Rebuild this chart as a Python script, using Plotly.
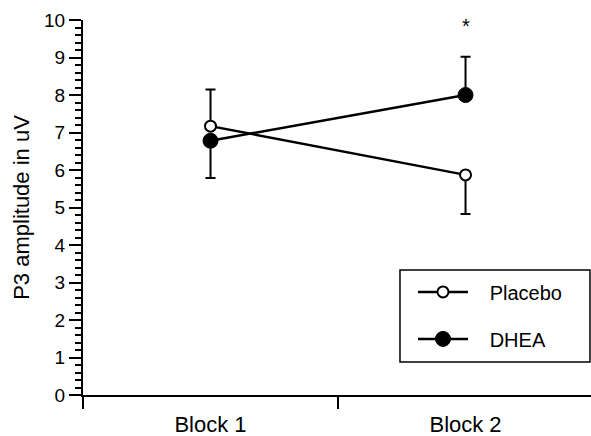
import plotly.graph_objects as go

categories = ["Block 1", "Block 2"]
placebo = [7.17, 5.87]
placebo_err_up = [0.98, 0.0]
placebo_err_down = [0.0, 1.04]
dhea = [6.78, 8.00]
dhea_err_up = [0.0, 1.02]
dhea_err_down = [0.99, 0.0]
star_pos = ("Block 2", 9.87)
y_ticks = [0, 1, 2, 3, 4, 5, 6, 7, 8, 9, 10]

FONT = "Arial, Liberation Sans, sans-serif"
PAD = "\u00a0\u00a0\u00a0"

fig = go.Figure()
fig.add_trace(go.Scatter(
    x=categories, y=placebo, name=PAD + "Placebo", mode="lines+markers",
    legendgroup="p",
    line=dict(color="black", width=2.5),
    marker=dict(symbol="circle", size=11, color="white", line=dict(color="black", width=2)),
    error_y=dict(type="data", array=placebo_err_up, arrayminus=placebo_err_down,
                 symmetric=False, color="black", thickness=2, width=5),
))
fig.add_trace(go.Scatter(
    x=categories, y=dhea, name=PAD + "DHEA", mode="lines+markers",
    legendgroup="d",
    line=dict(color="black", width=2.5),
    marker=dict(symbol="circle", size=15, color="black", line=dict(color="black", width=1)),
    error_y=dict(type="data", array=dhea_err_up, arrayminus=dhea_err_down,
                 symmetric=False, color="black", thickness=2, width=5),
))

fig.add_annotation(x=star_pos[0], y=star_pos[1], text="*", showarrow=False,
                   font=dict(family=FONT, size=20, color="black"), yshift=-1)

# legend frame
fig.add_shape(type="rect", xref="paper", yref="paper",
              x0=0.624, x1=0.998, y0=0.088, y1=0.3333,
              line=dict(color="black", width=1.5), fillcolor="rgba(0,0,0,0)")

fig.update_layout(
    width=591, height=436,
    margin=dict(l=83, r=0, t=20, b=41, autoexpand=False),
    paper_bgcolor="white", plot_bgcolor="white",
    font=dict(family=FONT, color="black"),
    showlegend=True,
    legend=dict(
        x=0.6496, y=0.327, xanchor="left", yanchor="top",
        borderwidth=0, bgcolor="rgba(0,0,0,0)",
        font=dict(family=FONT, size=20, color="black"),
        itemwidth=50, tracegroupgap=18, traceorder="grouped",
    ),
)
fig.update_xaxes(
    type="category", range=[-0.5, 1.492], tickson="boundaries",
    showline=True, linecolor="black", linewidth=2,
    ticks="outside", ticklen=12, tickwidth=2, tickcolor="black",
    tickfont=dict(family=FONT, size=22, color="black"), ticklabelstandoff=9,
    showgrid=False, zeroline=False, automargin=False,
)
fig.update_yaxes(
    range=[0, 10], tickvals=y_ticks,
    showline=True, linecolor="black", linewidth=2,
    ticks="outside", ticklen=12, tickwidth=2, tickcolor="black",
    tickfont=dict(family=FONT, size=19, color="black"),
    minor=dict(dtick=0.2, ticks="outside", ticklen=6, tickwidth=1.5, tickcolor="black"),
    showgrid=False, zeroline=False, automargin=False,
    title=dict(text="P3 amplitude in uV", font=dict(family=FONT, size=22, color="black"), standoff=8),
)

fig.write_html(
    "out.html",
    config={"displayModeBar": False},
    post_script="document.body.style.margin='0px';document.body.style.overflow='hidden';",
)
